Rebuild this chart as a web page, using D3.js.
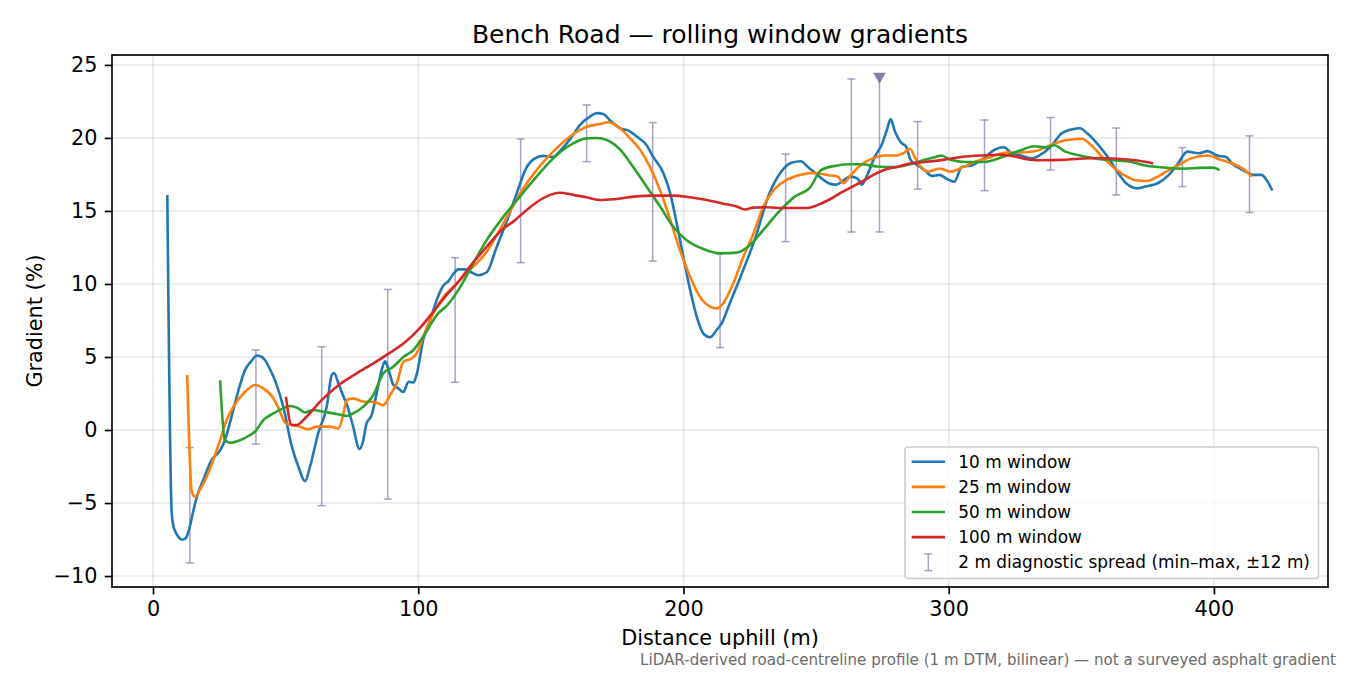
<!DOCTYPE html>
<html>
<head>
<meta charset="utf-8">
<script src="https://cdn.jsdelivr.net/npm/d3@7"></script>
<style>
  html, body { margin: 0; padding: 0; background: #fff; }
  svg { display: block; font-family: "DejaVu Sans", sans-serif; }
</style>
</head>
<body>
<svg id="chart" width="1350" height="675"></svg>
<script>
// ---------------- data ----------------
const title = "Bench Road \u2014 rolling window gradients";
const xLabel = "Distance uphill (m)";
const yLabel = "Gradient (%)";
const footer = "LiDAR-derived road-centreline profile (1 m DTM, bilinear) \u2014 not a surveyed asphalt gradient";

const xTicks = [0, 100, 200, 300, 400];
const yTicks = [-10, -5, 0, 5, 10, 15, 20, 25];

const seriesNames = ["10 m window", "25 m window", "50 m window", "100 m window"];
const seriesColors = ["#1f77b4", "#ff7f0e", "#2ca02c", "#d62728"];

const w10x = [5.4, 7.0, 7.6, 8.3, 9.5, 10.8, 12.0, 12.7, 13.9, 15.0, 16.5, 19.0, 22.1, 25.3, 27.1, 30.3, 32.5, 34.7, 37.0, 39.1, 40.5, 42.2, 44.0, 46.0, 49.1, 52.3, 54.8, 57.3, 59.2, 62.3, 65.5, 67.4, 68.2, 69.9, 71.8, 73.0, 75.5, 77.8, 79.3, 80.5, 82.4, 84.3, 86.2, 87.5, 88.7, 90.6, 92.5, 94.4, 96.3, 98.2, 99.4, 101.9, 104.4, 107.6, 109.5, 111.4, 113.3, 115.1, 117.6, 120.0, 122.6, 125.8, 129.6, 134.0, 137.1, 140.9, 144.0, 147.1, 150.9, 153.4, 157.2, 161.0, 164.7, 167.3, 169.8, 172.3, 176.1, 179.2, 182.4, 186.1, 188.6, 192.4, 195.0, 197.4, 199.9, 202.5, 205.0, 207.5, 210.0, 212.5, 214.4, 217.5, 221.3, 226.8, 232.4, 236.5, 240.7, 244.2, 247.0, 250.5, 254.7, 257.5, 260.3, 263.0, 265.8, 267.2, 269.3, 272.1, 274.9, 276.7, 278.1, 279.8, 281.9, 284.0, 285.6, 288.1, 290.9, 293.7, 296.5, 299.3, 302.1, 304.9, 309.1, 313.2, 317.4, 320.9, 323.7, 327.2, 331.4, 334.2, 338.4, 342.5, 346.7, 349.5, 352.3, 356.5, 360.7, 363.5, 366.9, 371.1, 374.6, 378.8, 383.0, 386.5, 390.0, 394.1, 397.6, 401.1, 404.6, 406.7, 410.9, 415.1, 417.9, 419.9, 422.0];
const w10y = [16.1, -5.5, -6.5, -6.9, -7.3, -7.5, -7.45, -7.3, -6.6, -5.7, -4.6, -3.4, -2.05, -1.4, -0.7, 1.4, 2.9, 4.1, 4.7, 5.1, 5.05, 4.8, 4.2, 3.4, 1.6, -1.1, -2.5, -3.5, -2.5, -0.2, 1.6, 3.77, 3.9, 3.2, 2.3, 1.8, 0.2, -1.3, -0.7, 0.45, 1.0, 2.5, 4.1, 4.7, 4.2, 3.1, 2.85, 2.6, 3.3, 3.25, 3.8, 6.2, 7.5, 9.2, 9.9, 10.2, 10.7, 11.0, 11.0, 10.8, 10.6, 10.8, 12.55, 14.6, 16.2, 18.0, 18.6, 18.77, 18.7, 19.1, 19.9, 20.9, 21.46, 21.7, 21.64, 21.2, 20.66, 20.5, 20.1, 19.5, 18.7, 17.6, 16.2, 14.2, 11.9, 9.6, 7.76, 6.6, 6.35, 6.85, 7.3, 8.7, 10.4, 13.0, 16.2, 17.6, 18.3, 18.4, 18.0, 17.47, 16.9, 16.8, 17.1, 17.35, 17.2, 16.8, 17.47, 18.7, 19.6, 20.55, 21.3, 20.4, 19.7, 19.4, 18.5, 18.15, 17.8, 17.4, 17.47, 17.2, 17.0, 18.0, 18.15, 18.6, 19.2, 19.36, 18.95, 18.8, 18.6, 18.8, 19.4, 20.3, 20.6, 20.66, 20.3, 19.5, 18.5, 17.7, 16.9, 16.55, 16.7, 16.9, 17.47, 18.27, 19.06, 18.95, 19.1, 18.8, 18.7, 18.27, 17.8, 17.47, 17.47, 17.1, 16.4];

const w25x = [12.9, 14.6, 15.8, 17.7, 20.2, 22.7, 25.3, 27.8, 30.3, 34.1, 38.5, 41.6, 45.4, 47.9, 49.8, 52.3, 55.4, 58.6, 61.7, 66.7, 69.9, 71.8, 73.0, 75.5, 79.3, 83.1, 86.8, 89.4, 91.9, 94.4, 97.5, 99.4, 101.9, 105.7, 109.5, 113.2, 119.5, 125.8, 132.1, 138.4, 144.6, 150.9, 157.2, 163.5, 168.5, 171.7, 176.1, 179.9, 183.6, 187.4, 191.2, 195.0, 198.7, 202.5, 206.3, 210.0, 212.5, 215.0, 218.8, 222.6, 226.5, 230.1, 233.9, 238.6, 243.5, 249.1, 254.7, 258.2, 260.3, 263.0, 267.2, 271.4, 275.6, 279.8, 283.3, 285.4, 287.5, 289.5, 292.3, 296.5, 300.7, 305.4, 310.5, 316.0, 321.6, 327.2, 332.8, 338.4, 344.0, 350.2, 353.7, 357.9, 362.1, 366.2, 370.4, 374.6, 378.8, 383.0, 387.2, 391.4, 397.6, 402.5, 406.7, 410.9, 414.4];
const w25y = [3.77, -4.2, -4.57, -4.1, -3.2, -2.05, -0.7, 0.7, 1.6, 2.5, 3.08, 2.85, 2.17, 1.25, 0.5, 0.34, 0.23, 0.05, 0.23, 0.23, 0.1, 1.14, 2.05, 2.17, 1.94, 1.94, 1.7, 2.4, 3.2, 4.68, 4.9, 5.25, 6.4, 8.0, 9.1, 9.8, 10.96, 12.2, 14.15, 16.2, 17.8, 19.06, 20.1, 20.77, 20.96, 21.07, 20.66, 19.97, 19.2, 18.0, 16.4, 14.4, 12.3, 10.5, 9.1, 8.45, 8.33, 8.68, 10.05, 11.87, 13.5, 15.3, 16.4, 17.1, 17.45, 17.6, 17.45, 17.35, 16.9, 17.45, 18.2, 18.6, 18.8, 18.8, 19.0, 19.26, 18.58, 18.0, 17.7, 17.9, 17.7, 18.0, 18.4, 18.7, 19.0, 19.0, 19.1, 19.5, 19.84, 19.95, 19.5, 18.7, 18.0, 17.45, 17.1, 17.05, 17.35, 17.8, 18.2, 18.6, 18.8, 18.5, 18.27, 17.9, 17.35];

const w50x = [25.3, 27.1, 29.0, 32.8, 36.6, 38.5, 41.6, 45.4, 49.1, 51.6, 54.8, 57.3, 60.4, 64.2, 69.2, 73.0, 75.5, 79.3, 83.1, 86.8, 90.6, 94.4, 98.2, 101.9, 107.6, 110.7, 115.7, 120.7, 125.8, 132.1, 138.4, 144.6, 150.9, 157.2, 163.5, 167.3, 171.1, 176.1, 181.1, 186.1, 191.2, 196.2, 201.2, 207.5, 213.8, 220.1, 225.1, 230.1, 235.5, 242.1, 247.7, 251.9, 257.5, 263.0, 267.2, 272.8, 279.8, 285.4, 291.0, 295.1, 297.2, 300.7, 306.3, 313.2, 320.2, 327.2, 332.1, 337.0, 339.7, 344.0, 349.5, 355.1, 362.1, 369.0, 374.6, 381.6, 388.6, 394.1, 399.7, 402.1];
const w50y = [3.4, -0.7, -0.87, -0.7, -0.34, -0.1, 0.68, 1.14, 1.48, 1.64, 1.48, 1.2, 1.37, 1.25, 1.1, 0.96, 1.14, 1.6, 2.4, 3.88, 4.34, 5.0, 5.48, 6.4, 8.0, 8.5, 9.75, 11.4, 13.0, 14.6, 16.0, 17.35, 18.6, 19.5, 19.97, 20.0, 19.86, 19.2, 18.0, 16.67, 15.3, 13.9, 13.0, 12.4, 12.1, 12.15, 12.67, 13.7, 14.85, 16.0, 16.6, 17.8, 18.1, 18.2, 18.2, 18.05, 18.0, 18.2, 18.5, 18.7, 18.8, 18.5, 18.35, 18.35, 18.7, 19.16, 19.43, 19.35, 19.5, 19.06, 18.8, 18.6, 18.47, 18.35, 18.1, 17.97, 17.9, 17.95, 17.97, 17.8];

const w100x = [50.1, 52.3, 54.2, 57.9, 63.0, 69.2, 76.8, 83.1, 89.4, 94.4, 100.7, 105.7, 110.7, 115.7, 119.5, 125.8, 132.1, 135.8, 140.9, 145.9, 149.7, 153.4, 158.5, 163.5, 168.5, 173.6, 181.1, 188.6, 196.2, 202.5, 208.8, 215.0, 220.1, 223.2, 226.3, 231.3, 238.0, 246.3, 250.5, 254.7, 258.9, 263.0, 267.2, 271.4, 275.6, 281.2, 285.4, 291.0, 297.9, 304.9, 311.9, 318.8, 324.4, 330.0, 335.6, 342.5, 349.5, 356.5, 363.5, 370.4, 374.6, 377.1];
const w100y = [2.28, 0.34, 0.34, 0.91, 1.94, 2.97, 3.88, 4.57, 5.3, 5.93, 7.0, 8.1, 9.25, 10.27, 11.2, 12.55, 13.8, 14.27, 15.07, 15.75, 16.1, 16.25, 16.1, 15.94, 15.75, 15.8, 15.98, 16.05, 16.05, 15.94, 15.75, 15.5, 15.3, 15.1, 15.23, 15.25, 15.2, 15.2, 15.4, 15.75, 16.2, 16.6, 17.0, 17.45, 17.8, 18.05, 18.25, 18.35, 18.5, 18.7, 18.8, 18.85, 18.75, 18.53, 18.47, 18.5, 18.58, 18.63, 18.58, 18.47, 18.35, 18.25];

// 2 m diagnostic spread (min-max within +/-12 m)
const spreadLabel = "2 m diagnostic spread (min\u2013max, \u00b112 m)";
const spreadX   = [13.9, 38.8, 63.6, 88.5, 113.9, 138.6, 163.5, 188.4, 213.8, 238.5, 263.3, 273.9, 288.3, 313.5, 338.4, 363.2, 388.1, 413.4];
const spreadMin = [-9.1, -0.96, -5.18, -4.73, 3.27, 11.46, 18.38, 11.57, 5.64, 12.9, 13.56, 13.56, 16.5, 16.39, 17.8, 16.1, 16.67, 14.9];
const spreadMax = [-1.2, 5.48, 5.7, 9.63, 11.8, 19.93, 22.26, 21.05, 12.05, 18.9, 24.04, 24.1, 21.12, 21.23, 21.4, 20.68, 19.34, 20.14];
const spreadClipped = [false, false, false, false, false, false, false, false, false, false, false, true, false, false, false, false, false, false];

const xDomain = [-15.46, 443.0];
const yDomain = [-10.75, 25.68];

// ---------------- layout ----------------
const svg = d3.select("#chart");
const W = 1350, H = 675;
const plot = { left: 112, right: 1328, top: 55, bottom: 587 };

const x = d3.scaleLinear().domain(xDomain).range([plot.left, plot.right]);
const y = d3.scaleLinear().domain(yDomain).range([plot.bottom, plot.top]);

svg.append("rect").attr("width", W).attr("height", H).attr("fill", "#fff");

svg.append("defs").append("clipPath").attr("id", "clip")
  .append("rect")
  .attr("x", plot.left).attr("y", plot.top)
  .attr("width", plot.right - plot.left).attr("height", plot.bottom - plot.top);

// grid
const grid = svg.append("g").attr("class", "grid");
grid.selectAll("line.gx").data(xTicks).join("line")
  .attr("x1", d => x(d)).attr("x2", d => x(d))
  .attr("y1", plot.top).attr("y2", plot.bottom)
  .attr("stroke", "#b0b0b0").attr("stroke-opacity", 0.3).attr("stroke-width", 1.6);
grid.selectAll("line.gy").data(yTicks).join("line")
  .attr("x1", plot.left).attr("x2", plot.right)
  .attr("y1", d => y(d)).attr("y2", d => y(d))
  .attr("stroke", "#b0b0b0").attr("stroke-opacity", 0.3).attr("stroke-width", 1.6);

const body = svg.append("g").attr("clip-path", "url(#clip)");

// error bars
const barColor = "#8878b4";
const capHalf = 4;
const spread = spreadX.map((d, i) => ({ x: d, lo: spreadMin[i], hi: spreadMax[i], clipped: spreadClipped[i] }));
const eb = body.append("g").attr("stroke", barColor).attr("stroke-opacity", 0.7).attr("stroke-width", 1.5);
eb.selectAll("line.v").data(spread).join("line")
  .attr("x1", d => x(d.x)).attr("x2", d => x(d.x))
  .attr("y1", d => y(d.lo)).attr("y2", d => y(d.hi));
eb.selectAll("line.lo").data(spread).join("line")
  .attr("x1", d => x(d.x) - capHalf).attr("x2", d => x(d.x) + capHalf)
  .attr("y1", d => y(d.lo)).attr("y2", d => y(d.lo));
eb.selectAll("line.hi").data(spread.filter(d => !d.clipped)).join("line")
  .attr("x1", d => x(d.x) - capHalf).attr("x2", d => x(d.x) + capHalf)
  .attr("y1", d => y(d.hi)).attr("y2", d => y(d.hi));
// clipped marker (downward triangle)
body.selectAll("path.tri").data(spread.filter(d => d.clipped)).join("path")
  .attr("d", d => {
    const cx = x(d.x), cy = y(d.hi);
    return `M${cx - 6.3},${cy - 5.2}L${cx + 6.3},${cy - 5.2}L${cx},${cy + 5.6}Z`;
  })
  .attr("fill", "#7d71a8").attr("fill-opacity", 0.9);

// lines
const series = [
  { xs: w10x, ys: w10y },
  { xs: w25x, ys: w25y },
  { xs: w50x, ys: w50y },
  { xs: w100x, ys: w100y }
];
const line = d3.line().x(d => x(d[0])).y(d => y(d[1])).curve(d3.curveMonotoneX);
series.forEach((s, i) => {
  const pts = s.xs.map((v, j) => [v, s.ys[j]]);
  body.append("path").datum(pts)
    .attr("d", line)
    .attr("fill", "none")
    .attr("stroke", seriesColors[i])
    .attr("stroke-width", 2.6)
    .attr("stroke-linejoin", "round")
    .attr("stroke-linecap", "butt");
});

// axes
const tickFont = 20.8;
const xAxis = d3.axisBottom(x).tickValues(xTicks).tickSize(7.3).tickPadding(7.3).tickFormat(d3.format("d"));
const yAxis = d3.axisLeft(y).tickValues(yTicks).tickSize(7.3).tickPadding(7.3).tickFormat(d3.format("d"));

const gx = svg.append("g").attr("transform", `translate(0,${plot.bottom})`).call(xAxis);
const gy = svg.append("g").attr("transform", `translate(${plot.left},0)`).call(yAxis);
[gx, gy].forEach(g => {
  g.select(".domain").remove();
  g.selectAll(".tick line").attr("stroke", "#000").attr("stroke-width", 1.67);
  g.selectAll(".tick text").attr("fill", "#000").attr("font-size", tickFont)
    .attr("font-family", "DejaVu Sans");
});

// spines
svg.append("rect")
  .attr("x", plot.left).attr("y", plot.top)
  .attr("width", plot.right - plot.left).attr("height", plot.bottom - plot.top)
  .attr("fill", "none").attr("stroke", "#000").attr("stroke-width", 1.67);

// title & labels
svg.append("text").attr("x", (plot.left + plot.right) / 2).attr("y", 42.5)
  .attr("text-anchor", "middle").attr("font-size", 25).attr("fill", "#000").text(title);
svg.append("text").attr("x", (plot.left + plot.right) / 2).attr("y", 645)
  .attr("text-anchor", "middle").attr("font-size", 20.8).attr("fill", "#000").text(xLabel);
svg.append("text")
  .attr("transform", `translate(41.5,${(plot.top + plot.bottom) / 2}) rotate(-90)`)
  .attr("text-anchor", "middle").attr("font-size", 20.8).attr("fill", "#000").text(yLabel);
svg.append("text").attr("x", 1336).attr("y", 665)
  .attr("text-anchor", "end").attr("font-size", 15.1).attr("fill", "#6b6b6b").text(footer);

// legend
const lg = svg.append("g");
const lgFont = 16.9;
lg.append("rect")
  .attr("x", 905).attr("y", 447).attr("width", 413.5).attr("height", 131.5)
  .attr("rx", 3.3).attr("ry", 3.3)
  .attr("fill", "#fff").attr("fill-opacity", 0.8)
  .attr("stroke", "#cccccc").attr("stroke-width", 1.6);
const rowY = i => 461.7 + i * 25.15;
const legendItems = seriesNames.map((n, i) => ({ name: n, color: seriesColors[i], type: "line" }))
  .concat([{ name: spreadLabel, color: barColor, type: "bar" }]);
legendItems.forEach((it, i) => {
  const cy = rowY(i);
  if (it.type === "line") {
    lg.append("line").attr("x1", 911.7).attr("x2", 945).attr("y1", cy).attr("y2", cy)
      .attr("stroke", it.color).attr("stroke-width", 2.6);
  } else {
    const g = lg.append("g").attr("stroke", it.color).attr("stroke-opacity", 0.7).attr("stroke-width", 1.5);
    g.append("line").attr("x1", 928.3).attr("x2", 928.3).attr("y1", cy - 8.3).attr("y2", cy + 8.3);
    g.append("line").attr("x1", 928.3 - capHalf).attr("x2", 928.3 + capHalf).attr("y1", cy - 8.3).attr("y2", cy - 8.3);
    g.append("line").attr("x1", 928.3 - capHalf).attr("x2", 928.3 + capHalf).attr("y1", cy + 8.3).attr("y2", cy + 8.3);
  }
  lg.append("text").attr("x", 958.3).attr("y", cy).attr("dy", "0.36em")
    .attr("font-size", lgFont).attr("fill", "#000").text(it.name);
});
</script>
</body>
</html>
